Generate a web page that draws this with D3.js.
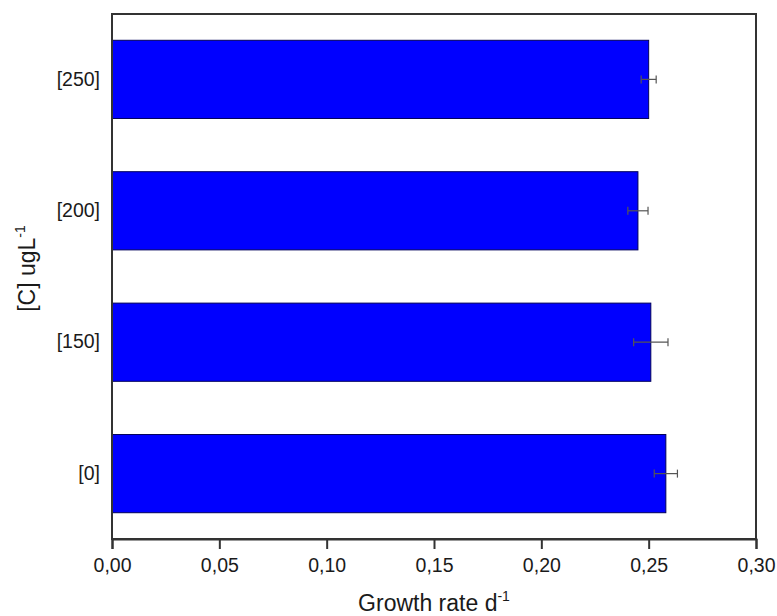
<!DOCTYPE html>
<html>
<head>
<meta charset="utf-8">
<script src="https://cdn.jsdelivr.net/npm/d3@7"></script>
<style>
  html, body { margin: 0; padding: 0; background: #fff; }
  svg { display: block; font-family: Arial, "Liberation Sans", sans-serif; }
</style>
</head>
<body>
<svg id="chart" width="777" height="616"></svg>
<script>
// Concentration groups (bottom to top) and their growth rates with SE
const categories = ["[0]", "[150]", "[200]", "[250]"];
const growthRate = [0.258, 0.251, 0.245, 0.250];
const errorSE = [0.0054, 0.0080, 0.0047, 0.0035];
const xTicks = [0, 0.05, 0.10, 0.15, 0.20, 0.25, 0.30];

const svg = d3.select("#chart");
const margin = { left: 112, right: 21, top: 14, bottom: 77 };
const W = 777, H = 616;
const plotW = W - margin.left - margin.right;
const plotH = H - margin.top - margin.bottom;

const x = d3.scaleLinear().domain([0, 0.30]).range([0, plotW]);
const y = d3.scaleBand()
  .domain(categories.slice().reverse())
  .range([0, plotH])
  .paddingInner(0.405)
  .paddingOuter(0.2);

const g = svg.append("g").attr("transform", `translate(${margin.left},${margin.top})`);

const data = categories.map((c, i) => ({ c, v: growthRate[i], e: errorSE[i] }));

// bars
g.selectAll("rect.bar").data(data).join("rect")
  .attr("class", "bar")
  .attr("x", 0)
  .attr("y", d => y(d.c))
  .attr("width", d => x(d.v))
  .attr("height", y.bandwidth())
  .attr("fill", "#0000ff")
  .attr("stroke", "#00005a")
  .attr("stroke-width", 1);

// error bars
const eb = g.selectAll("g.err").data(data).join("g").attr("class", "err")
  .attr("stroke", "#555").attr("stroke-width", 1.2);
eb.append("line")
  .attr("x1", d => x(d.v - d.e)).attr("x2", d => x(d.v + d.e))
  .attr("y1", d => y(d.c) + y.bandwidth() / 2).attr("y2", d => y(d.c) + y.bandwidth() / 2);
[-1, 1].forEach(s => {
  eb.append("line")
    .attr("x1", d => x(d.v + s * d.e)).attr("x2", d => x(d.v + s * d.e))
    .attr("y1", d => y(d.c) + y.bandwidth() / 2 - 4)
    .attr("y2", d => y(d.c) + y.bandwidth() / 2 + 4);
});

// frame
g.append("rect")
  .attr("x", 0).attr("y", 0).attr("width", plotW).attr("height", plotH)
  .attr("fill", "none").attr("stroke", "#333").attr("stroke-width", 2);

// x axis
const fmt = d => d3.format(".2f")(d).replace(".", ",");
const xAxis = g.append("g")
  .attr("transform", `translate(0,${plotH})`)
  .call(d3.axisBottom(x).tickValues(xTicks).tickFormat(fmt).tickSize(10).tickPadding(9.5));
xAxis.select(".domain").attr("stroke", "#333").attr("stroke-width", 2);
xAxis.selectAll(".tick line").attr("stroke", "#333").attr("stroke-width", 2);
xAxis.selectAll(".tick text").attr("font-size", 19.5).attr("fill", "#1a1a1a")
  .attr("font-family", "Arial, 'Liberation Sans', sans-serif");

// y axis (labels only)
const yAxis = g.append("g")
  .call(d3.axisLeft(y).tickSize(0).tickPadding(12));
yAxis.select(".domain").remove();
yAxis.selectAll(".tick text").attr("font-size", 19.5).attr("fill", "#1a1a1a")
  .attr("font-family", "Arial, 'Liberation Sans', sans-serif");

// axis titles
const xt = svg.append("text")
  .attr("x", margin.left + plotW / 2).attr("y", 611)
  .attr("text-anchor", "middle").attr("font-size", 23).attr("fill", "#1a1a1a");
xt.append("tspan").text("Growth rate d");
xt.append("tspan").attr("font-size", 14).attr("dy", -10).text("-1");

const yt = svg.append("text")
  .attr("transform", `translate(35,${margin.top + plotH / 2 - 8}) rotate(-90)`)
  .attr("text-anchor", "middle").attr("font-size", 23).attr("fill", "#1a1a1a");
yt.append("tspan").text("[C] ugL");
yt.append("tspan").attr("font-size", 14).attr("dy", -10).text("-1");
</script>
</body>
</html>
